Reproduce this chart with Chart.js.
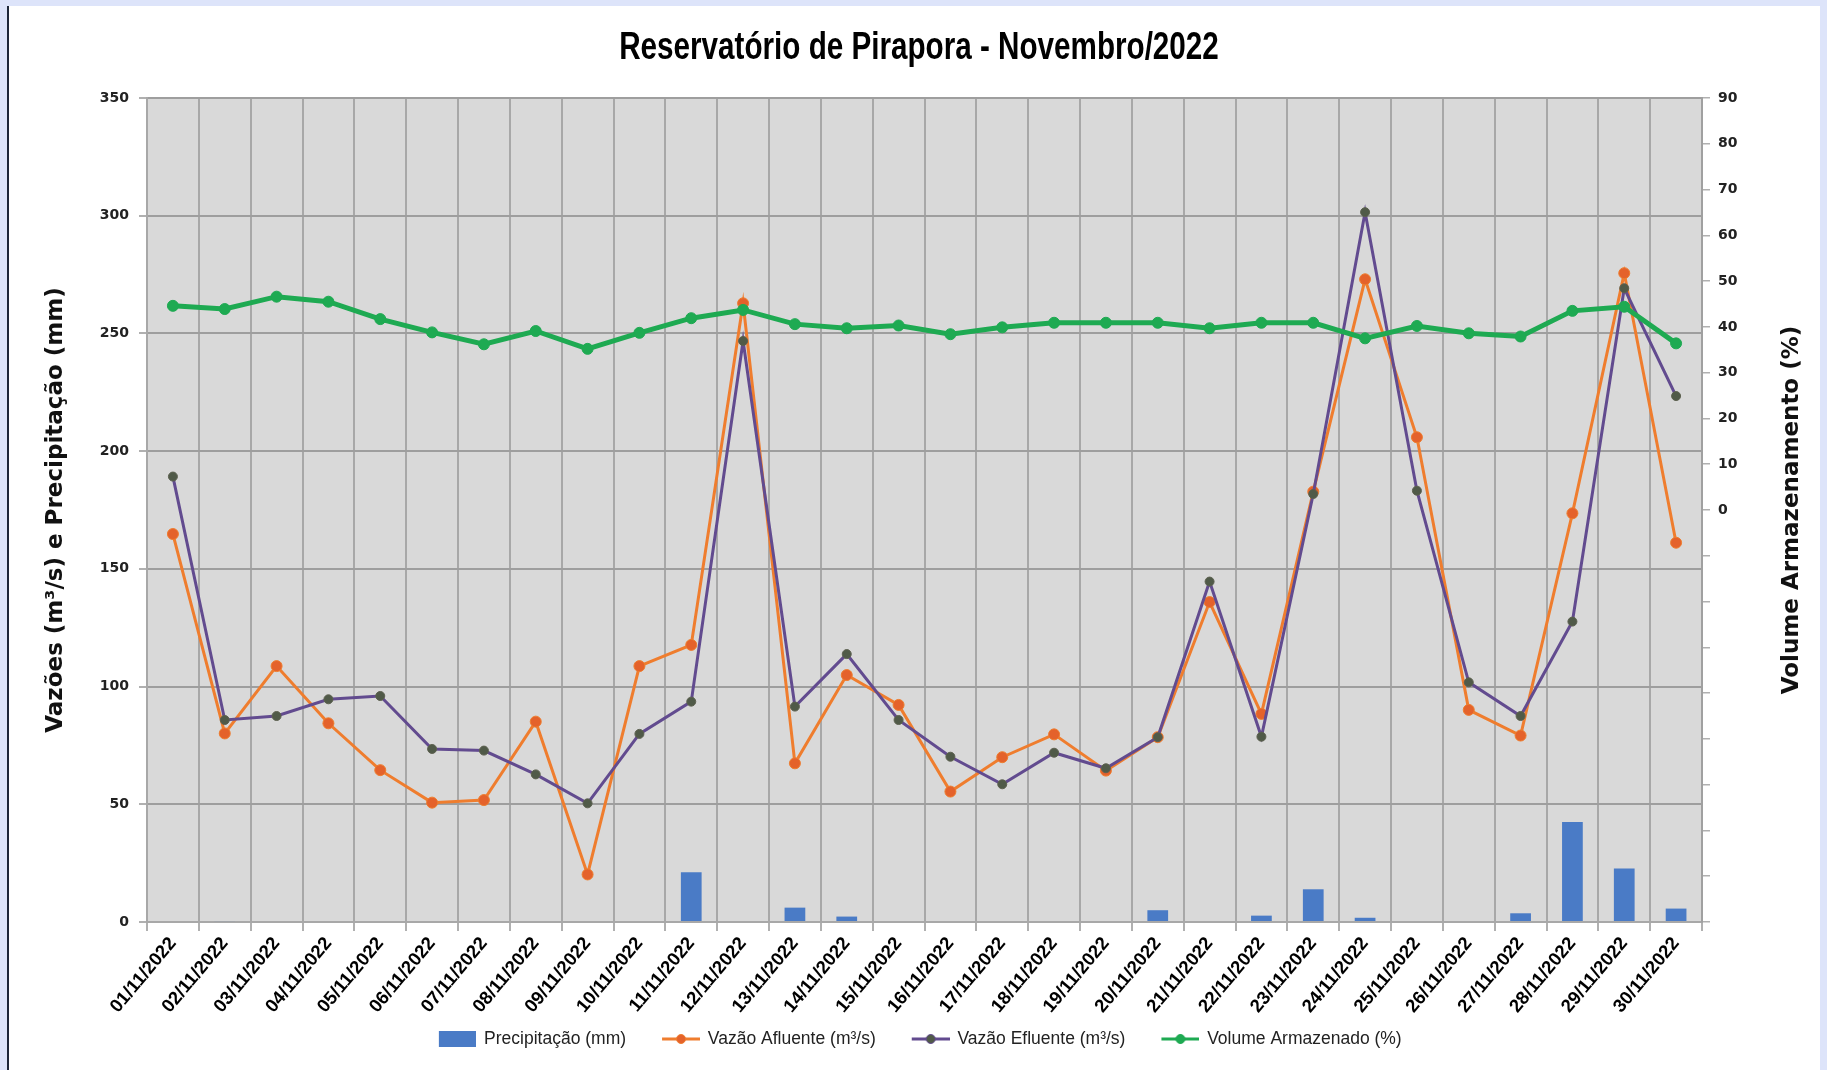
<!DOCTYPE html>
<html><head><meta charset="utf-8">
<script src="https://cdn.jsdelivr.net/npm/chart.js@4.4.0/dist/chart.umd.min.js"></script>
<style>html,body{margin:0;padding:0;background:#fff;overflow:hidden}#wrap{width:1827px;height:1070px}</style>
</head><body><div id="wrap"><canvas id="c" width="1827" height="1070"></canvas></div>
<script>
const categories = ['01/11/2022','02/11/2022','03/11/2022','04/11/2022','05/11/2022','06/11/2022','07/11/2022','08/11/2022','09/11/2022','10/11/2022','11/11/2022','12/11/2022','13/11/2022','14/11/2022','15/11/2022','16/11/2022','17/11/2022','18/11/2022','19/11/2022','20/11/2022','21/11/2022','22/11/2022','23/11/2022','24/11/2022','25/11/2022','26/11/2022','27/11/2022','28/11/2022','29/11/2022','30/11/2022'];
const precipitacao = [0, 0.4, 0, 0, 0, 0, 0, 0, 0, 0, 21.1, 0, 6.1, 2.3, 0, 0, 0, 0, 0, 5.0, 0, 2.7, 13.9, 1.8, 0, 0, 3.7, 42.5, 22.7, 5.7];
const vazaoAfluente = [164.8, 80.1, 108.7, 84.4, 64.5, 50.7, 51.8, 85.1, 20.2, 108.7, 117.7, 262.8, 67.4, 104.9, 92.2, 55.4, 70.0, 79.7, 64.3, 78.5, 135.9, 88.4, 182.8, 273.0, 205.9, 90.1, 79.2, 173.6, 275.6, 161.1];
const vazaoEfluente = [189.2, 85.8, 87.5, 94.6, 96.0, 73.5, 72.8, 62.7, 50.4, 79.9, 93.6, 246.8, 91.5, 113.8, 85.8, 70.2, 58.5, 71.9, 65.3, 78.5, 144.6, 78.7, 181.8, 301.5, 183.2, 101.8, 87.5, 127.6, 269.2, 223.4];
const volumeArmazenado = [44.6, 43.9, 46.6, 45.5, 41.7, 38.8, 36.2, 39.1, 35.2, 38.7, 41.9, 43.7, 40.6, 39.7, 40.3, 38.4, 39.9, 40.9, 40.9, 40.9, 39.7, 40.9, 40.9, 37.5, 40.2, 38.6, 37.9, 43.5, 44.4, 36.4];
const seriesNames = ['Precipitação (mm)', 'Vazão Afluente (m³/s)', 'Vazão Efluente (m³/s)', 'Volume Armazenado (%)'];
const chartTitle = 'Reservatório de Pirapora - Novembro/2022';
const leftTitle = 'Vazões (m³/s) e Precipitação (mm)';
const rightTitle = 'Volume Armazenamento (%)';
const leftTicks = {min: 0, max: 350, step: 50};
const rightTicks = {min: -90, max: 90, step: 10};

const SANS = "'Liberation Sans', Arial, sans-serif";
const WIDE = "'DejaVu Sans', Verdana, sans-serif";
const C_BAR = '#4a7bc6', C_OR = '#ef7d2e', C_OR_PT = '#e4622b', C_PU = '#624b8f', C_PU_PT = '#505a48', C_GR = '#1eaa52';
const LEAD = 29;

function lineIcon(line, dot, dotBorder) {
  const cv = document.createElement('canvas');
  cv.width = 38 + LEAD; cv.height = 14;
  const g = cv.getContext('2d');
  g.strokeStyle = line; g.lineWidth = 3;
  g.beginPath(); g.moveTo(LEAD, 7); g.lineTo(LEAD + 38, 7); g.stroke();
  g.fillStyle = dot; g.strokeStyle = dotBorder; g.lineWidth = 1;
  g.beginPath(); g.arc(LEAD + 19, 7, 4.5, 0, Math.PI * 2); g.fill(); g.stroke();
  return cv;
}
function boxIcon(color) {
  const cv = document.createElement('canvas');
  cv.width = 37 + LEAD; cv.height = 16;
  const g = cv.getContext('2d');
  g.fillStyle = color; g.fillRect(LEAD, 0, 37, 16);
  return cv;
}
const icons = [boxIcon(C_BAR), lineIcon(C_OR, C_OR_PT, C_OR), lineIcon(C_PU, C_PU_PT, C_PU), lineIcon(C_GR, C_GR, C_GR)];

const bgPlugin = {
  id: 'bg',
  beforeDraw(chart) {
    const ctx = chart.ctx, a = chart.chartArea;
    ctx.save();
    ctx.fillStyle = '#dde4fa';
    ctx.fillRect(0, 0, chart.width, chart.height);
    ctx.fillStyle = '#ffffff';
    ctx.fillRect(9, 6, 1811, chart.height - 6);
    ctx.fillStyle = '#1d2638';
    ctx.fillRect(7, 6, 2, chart.height - 6);
    ctx.fillStyle = '#d9d9d9';
    ctx.fillRect(a.left, a.top, a.right - a.left, a.bottom - a.top);
    ctx.restore();
  },
  afterDraw(chart) {
    const ctx = chart.ctx, a = chart.chartArea;
    ctx.save();
    ctx.translate(919, 49);
    ctx.scale(0.78, 1);
    ctx.font = "bold 38px " + SANS;
    ctx.fillStyle = '#000';
    ctx.textAlign = 'center';
    ctx.textBaseline = 'middle';
    ctx.fillText(chartTitle, 0, 0);
    ctx.restore();
    ctx.save();
    ctx.translate(1792, (a.top + a.bottom) / 2);
    ctx.rotate(-Math.PI / 2);
    ctx.font = "bold 23px " + WIDE;
    ctx.fillStyle = '#111';
    ctx.textAlign = 'center';
    ctx.textBaseline = 'middle';
    ctx.fillText(rightTitle, 0, 0);
    ctx.restore();
  }
};

new Chart(document.getElementById('c'), {
  data: {
    labels: categories,
    datasets: [
      {type: 'bar', label: seriesNames[0], data: precipitacao, backgroundColor: C_BAR, yAxisID: 'y', order: 4, barPercentage: 0.8, categoryPercentage: 0.5},
      {type: 'line', label: seriesNames[1], data: vazaoAfluente, borderColor: C_OR, borderWidth: 3, pointRadius: 5.5, pointBackgroundColor: C_OR_PT, pointBorderColor: C_OR, pointBorderWidth: 1, yAxisID: 'y', order: 3, tension: 0},
      {type: 'line', label: seriesNames[2], data: vazaoEfluente, borderColor: C_PU, borderWidth: 3, pointRadius: 4.5, pointBackgroundColor: C_PU_PT, pointBorderColor: '#5d6150', pointBorderWidth: 1, yAxisID: 'y', order: 2, tension: 0},
      {type: 'line', label: seriesNames[3], data: volumeArmazenado, borderColor: C_GR, borderWidth: 5, pointRadius: 5.5, pointBackgroundColor: C_GR, pointBorderColor: C_GR, pointBorderWidth: 1, yAxisID: 'y1', order: 1, tension: 0}
    ]
  },
  options: {
    responsive: false,
    animation: false,
    devicePixelRatio: 1,
    layout: {padding: {left: 0, right: 15, top: 98, bottom: 12.25}},
    plugins: {
      title: {display: false},
      legend: {
        position: 'bottom',
        labels: {
          usePointStyle: true, pointStyleWidth: 36 + LEAD, padding: 8, color: '#222',
          font: {family: SANS, size: 17.5},
          generateLabels: () => seriesNames.map((t, i) => ({text: t, pointStyle: icons[i], fillStyle: 'rgba(0,0,0,0)', strokeStyle: 'rgba(0,0,0,0)', lineWidth: 0, hidden: false, datasetIndex: i, fontColor: '#222'}))
        }
      },
      tooltip: {enabled: false}
    },
    scales: {
      x: {
        offset: true,
        grid: {offset: true, color: '#a8a8a8', lineWidth: 2, drawTicks: true, tickLength: 9, tickColor: '#b0b0b0'},
        border: {color: '#a8a8a8', width: 2},
        ticks: {autoSkip: false, minRotation: 50, maxRotation: 50, color: '#000', padding: 2, font: {family: SANS, size: 18.5, weight: 'bold'}},
        afterFit: s => { s.height = 100.25; }
      },
      y: {
        position: 'left', min: leftTicks.min, max: leftTicks.max,
        ticks: {stepSize: leftTicks.step, color: '#222', padding: 10, font: {family: WIDE, size: 14, weight: 'bold'}},
        grid: {color: '#9e9e9e', lineWidth: 2, tickLength: 8, tickColor: '#b0b0b0'},
        border: {color: '#a8a8a8', width: 2},
        title: {display: true, text: leftTitle, color: '#111', font: {family: WIDE, size: 23, weight: 'bold'}, padding: {top: 42, bottom: 0}},
        afterFit: s => { s.width = 147; }
      },
      y1: {
        position: 'right', min: rightTicks.min, max: rightTicks.max,
        ticks: {stepSize: rightTicks.step, color: '#222', padding: 8, font: {family: WIDE, size: 14, weight: 'bold'}, callback: v => (v >= 0 ? v : '')},
        grid: {drawOnChartArea: false, tickLength: 8, color: '#b0b0b0', lineWidth: 1.5},
        border: {color: '#a0a0a0', width: 2},
        afterFit: s => { s.width = 110; }
      }
    }
  },
  plugins: [bgPlugin]
});
</script>
</body></html>
